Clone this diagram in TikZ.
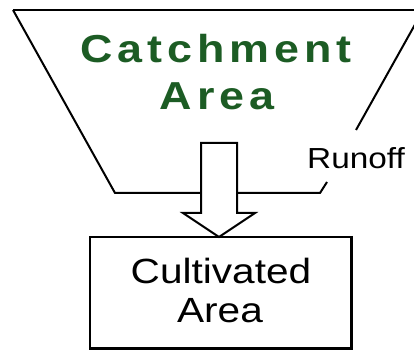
\documentclass[tikz,border=0pt]{standalone}
\usepackage{fontspec}
\setmainfont{Liberation Sans}
\newfontfamily\catchfont[LetterSpace=11]{Liberation Sans Bold}
\definecolor{catchgreen}{RGB}{28,92,36}
\begin{document}
\begin{tikzpicture}[x=1pt,y=-1pt,
  outline/.style={draw=black,line width=2pt,line join=miter},
  boxline/.style={draw=black,line width=2pt},
  labeltext/.style={inner sep=0pt,text=black}]
\useasboundingbox (0,0) rectangle (414,352);
\begin{scope}
\clip (0,0) rectangle (414,352);
% catchment funnel
\draw[outline] (13,10) -- (430,10);
\draw[outline] (13,10) -- (115,193) -- (320,193) -- (327,182);
\draw[outline] (356,130) -- (422,12);
\end{scope}
\coordinate (runtick) at (327,182);
% texts
\node[inner sep=0pt,anchor=base,text=catchgreen] (catch1) at (216,63)
  {\scalebox{1.15}[1]{\fontsize{39}{47}\catchfont Catchment}};
\node[inner sep=0pt,anchor=base,text=catchgreen] (catch2) at (217,110)
  {\scalebox{1.15}[1]{\fontsize{39}{47}\catchfont Area}};
\node[labeltext,anchor=base] (runoff) at (356,169)
  {\scalebox{1.15}[1]{\fontsize{29}{34}\selectfont Runoff}};
% cultivated area box
\node[inner sep=0pt,minimum width=261pt,minimum height=111pt,draw=black,line width=2pt] (cult) at (220.5,292.5) {};
\draw[line width=3.5pt] ([xshift=-0.5pt]cult.north east) -- ([xshift=-0.5pt,yshift=0.5pt]cult.south east) -- ([yshift=0.5pt]cult.south west);
\node[labeltext,anchor=base] (cultA) at (221,283)
  {\scalebox{1.16}[1]{\fontsize{35}{39}\selectfont Cultivated}};
\node[labeltext,anchor=base] (cultB) at (220,322)
  {\scalebox{1.16}[1]{\fontsize{35}{39}\selectfont Area}};
% block arrow
\draw[outline,fill=white] (201,143) -- (237,143) -- (237,213) -- (255,213) -- (219,237) -- (183,213) -- (201,213) -- cycle;
\coordinate (arrowtip) at (219,237);
\end{tikzpicture}
\end{document}
